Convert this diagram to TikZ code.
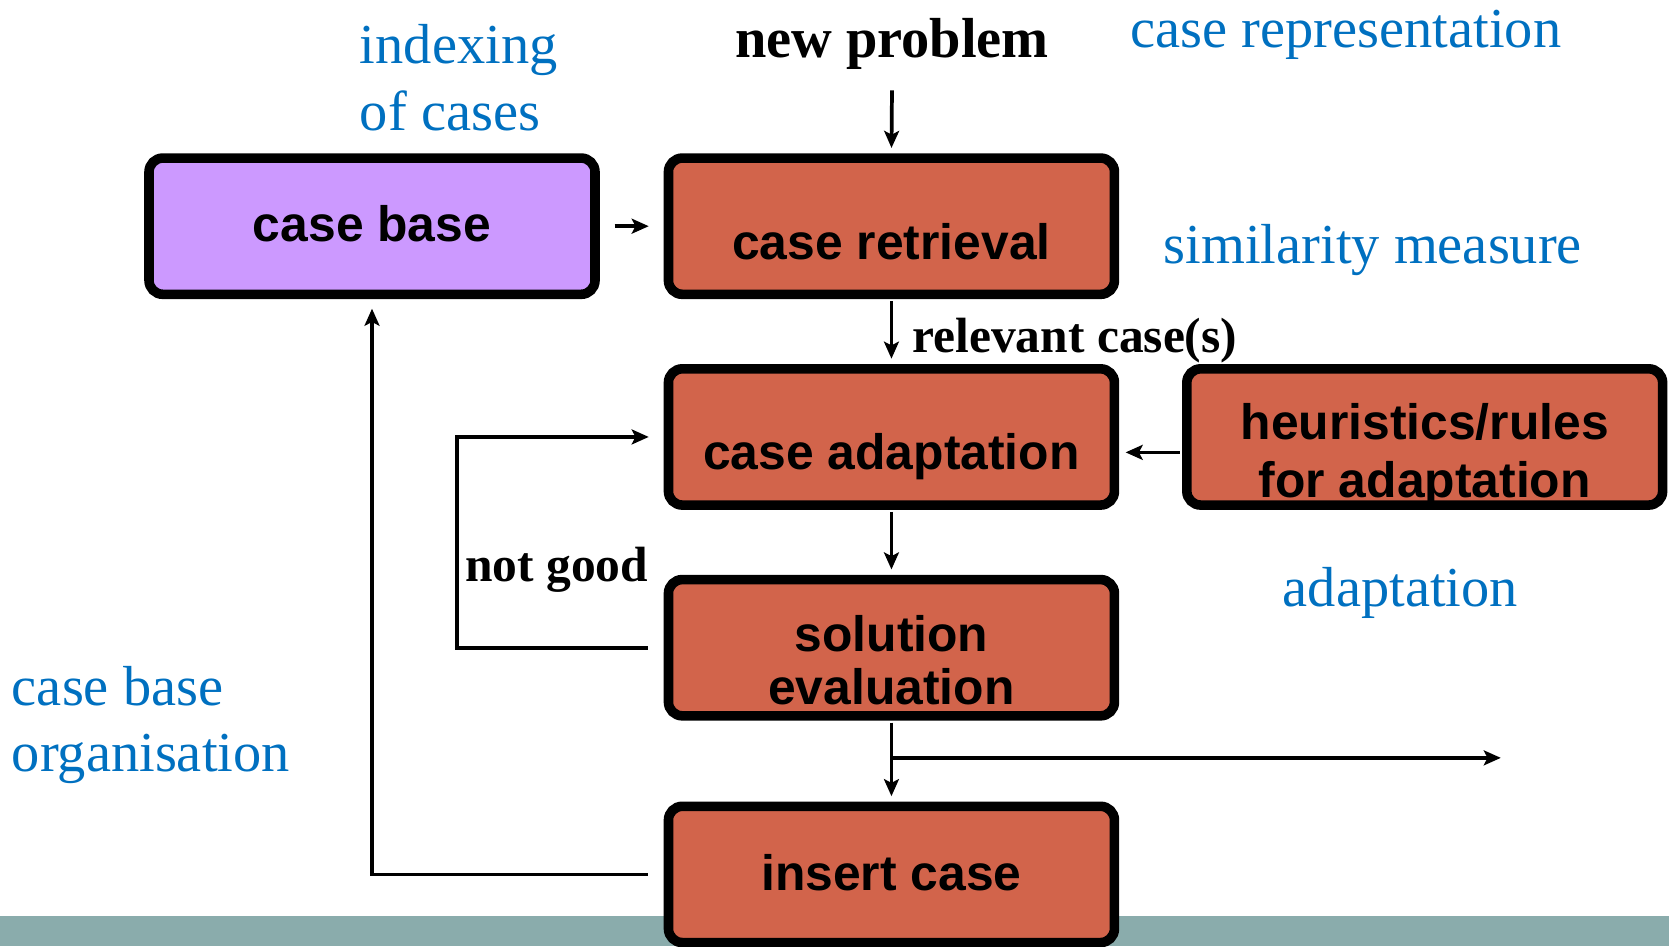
\documentclass[tikz,border=0pt]{standalone}
\usepackage{fontspec}
\setmainfont{Liberation Serif}
\newfontfamily\boxfont{Liberation Sans}
\usetikzlibrary{arrows.meta}
\definecolor{procfill}{HTML}{D2644B}
\definecolor{basefill}{HTML}{CC99FF}
\definecolor{notecol}{HTML}{0070C0}
\definecolor{bandcol}{HTML}{8AACAC}
\tikzset{
  box/.style={draw=black, line width=9pt, rounded corners=13pt, minimum width=419pt,
    minimum height=128pt, inner sep=0pt},
  proc/.style={box, fill=procfill},
  boxtext/.style={font=\boxfont\bfseries\fontsize{46.8}{52}\selectfont, anchor=base, inner sep=0pt},
  note/.style={font=\fontsize{53}{60}\selectfont, text=notecol, anchor=base west, inner sep=0pt},
  flowlabel/.style={font=\bfseries\fontsize{46.5}{52}\selectfont, anchor=base west, inner sep=0pt},
  arr/.style={line width=3.5pt, -{Stealth[length=16pt,width=14pt,inset=3.5pt]}}
}
\begin{document}
\begin{tikzpicture}[x=1pt, y=-1pt]
\useasboundingbox (0,0) rectangle (1568,889);
% footer band
\fill[bandcol] (0,861) rectangle (1568,889);

% process boxes
\node[box, fill=basefill] (cb) at (349.5,212.5) {};
\node[proc] (retr) at (837.5,212.5) {};
\node[proc] (adapt) at (837.5,410.5) {};
\node[proc, minimum width=447pt] (heur) at (1338.5,410.5) {};
\node[proc] (eval) at (837.5,608.5) {};
\node[proc] (ins) at (837.5,821.5) {};

% box captions
\node[boxtext] (cbT) at (349.5,227) {case base};
\node[boxtext] (retrT) at (837.5,244) {case retrieval};
\node[boxtext] (adaptT) at (837.5,441) {case adaptation};
\node[boxtext] (heurT1) at (1338.5,413) {heuristics/rules};
\node[boxtext] (heurT2) at (1338.5,467) {for adaptation};
\node[boxtext] (evalT1) at (837.5,612) {solution};
\node[boxtext] (evalT2) at (837.5,662) {evaluation};
\node[boxtext] (insT) at (837.5,837) {insert case};

% flow labels
\node[font=\bfseries\fontsize{53}{58}\selectfont, anchor=base, inner sep=0pt] (np) at (838,54) {new problem};
\node[flowlabel] (rel) at (857,331) {relevant case(s)};
\node[flowlabel] (ng) at (437,546) {not good};

% side notes
\node[note] (idx1) at (338,60) {indexing};
\node[note] (idx2) at (338,123) {of cases};
\node[note] (rep) at (1062,45) {case representation};
\node[note] (sim) at (1093,248) {similarity measure};
\node[note] (ada) at (1205,570) {adaptation};
\node[note] (org1) at (11,663) {case base};
\node[note] (org2) at (11,725) {organisation};

% connectors
\coordinate (npfoot) at (838,85);
\coordinate (branch) at (838,712);
\coordinate (outlet) at (1410,712);
\draw[arr, shorten >=5pt] (npfoot) -- (retr.north);
\draw[arr, shorten <=14pt, shorten >=14pt] (cb.east) -- (retr.west);
\draw[arr, shorten <=2pt, shorten >=5pt] (retr.south) -- (adapt.north);
\draw[arr, shorten <=2pt, shorten >=6pt] ([yshift=-14.5pt]heur.west) -- ([yshift=-14.5pt]adapt.east);
\draw[arr, shorten <=2pt, shorten >=5pt] (adapt.south) -- (eval.north);
\draw[arr] ([xshift=-15pt]eval.west) -- ++(-179,0) |- ([xshift=-14pt]adapt.west);
\draw[arr, shorten <=2pt, shorten >=5pt] (eval.south) -- (ins.north);
\draw[arr] (branch) -- (outlet);
\draw[arr, shorten >=9pt] ([xshift=-15pt]ins.west) -| (cb.south);
\end{tikzpicture}
\end{document}
